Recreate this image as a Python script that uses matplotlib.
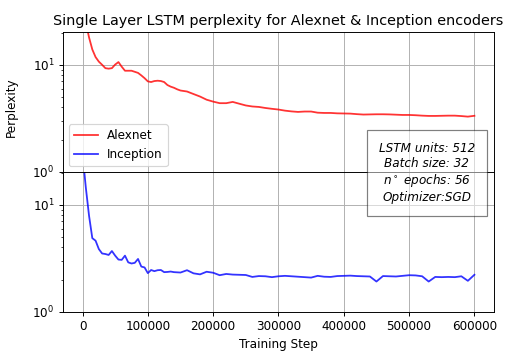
import matplotlib.pyplot as plt
import numpy as np

# training steps: every 5000 up to 150k, then every 10000
steps = list(range(0, 150001, 5000)) + list(range(160000, 600001, 10000))

alexnet = [40, 25, 18.0, 13.9, 11.8, 10.7, 10.0, 9.3, 9.2, 9.3,
           10.05, 10.6, 9.6, 8.8, 8.8, 8.8, 8.6, 8.4, 7.96, 7.5,
           7.0, 6.9, 7.05, 7.1, 7.05, 6.9, 6.47, 6.25, 6.1, 5.9,
           5.75,
           5.63, 5.33, 5.05, 4.72, 4.53, 4.38, 4.38, 4.5, 4.33, 4.17,
           4.08, 4.04, 3.95, 3.88, 3.82, 3.73, 3.67, 3.63, 3.66, 3.66,
           3.57, 3.55, 3.55, 3.52, 3.51, 3.50, 3.46, 3.43, 3.44, 3.45,
           3.45, 3.44, 3.42, 3.40, 3.40, 3.38, 3.35, 3.33, 3.33, 3.34,
           3.35, 3.35, 3.32, 3.28, 3.34]

inception = [30, 14.6, 7.9, 4.88, 4.62, 3.86, 3.51, 3.47, 3.40, 3.7,
             3.35, 3.08, 3.06, 3.35, 2.9, 2.83, 2.87, 3.12, 2.65, 2.6,
             2.3, 2.46, 2.4, 2.45, 2.46, 2.35, 2.36, 2.38, 2.35, 2.34,
             2.33,
             2.45, 2.29, 2.24, 2.37, 2.32, 2.2, 2.26, 2.23, 2.22, 2.21,
             2.12, 2.16, 2.15, 2.11, 2.15, 2.17, 2.15, 2.13, 2.11, 2.09,
             2.17, 2.13, 2.12, 2.16, 2.17, 2.18, 2.16, 2.15, 2.14, 1.92,
             2.16, 2.15, 2.14, 2.17, 2.2, 2.19, 2.15, 1.92, 2.12, 2.11,
             2.12, 2.11, 2.15, 1.95, 2.22]

info = "LSTM units: 512\nBatch size: 32\nn$^\\circ$ epochs: 56\nOptimizer:SGD"

fig, (ax1, ax2) = plt.subplots(2, 1, sharex=True, figsize=(520 / 86, 354 / 86), dpi=86)
fig.subplots_adjust(left=0.121, right=0.95, top=0.91, bottom=0.119, hspace=0)

l1, = ax1.plot(steps, alexnet, color='red', alpha=0.8, linewidth=1.5, label='Alexnet')
l2, = ax2.plot(steps, inception, color='blue', alpha=0.8, linewidth=1.5, label='Inception')

for ax in (ax1, ax2):
    ax.set_yscale('log')
    ax.set_ylim(1, 20.3)
    ax.grid(True)

ax1.set_title('Single Layer LSTM perplexity for Alexnet & Inception encoders')
ax1.set_ylabel('Perplexity')
ax1.yaxis.set_label_coords(-0.105, 0.46)
ax2.set_xlabel('Training Step')
ax1.legend(handles=[l1, l2], loc='lower left')

fig.text(0.821, 0.511, info, ha='center', va='center', style='italic',
         bbox=dict(facecolor='white', alpha=0.5, pad=10))

plt.savefig('out.png')
